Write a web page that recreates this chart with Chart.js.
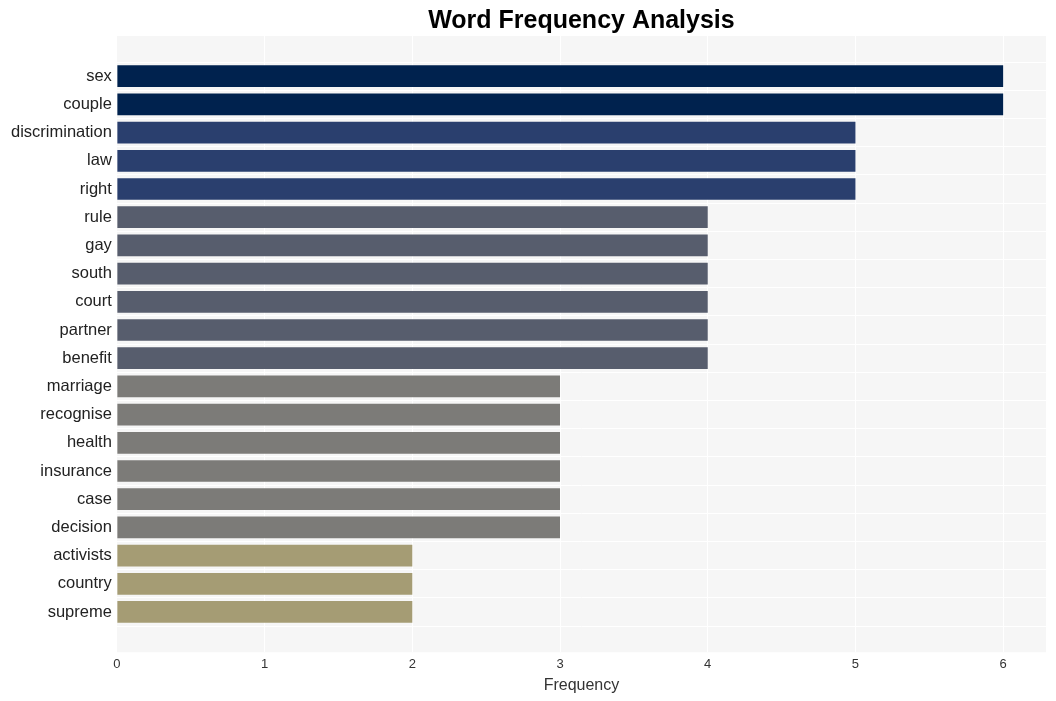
<!DOCTYPE html>
<html lang="en">
<head>
    <meta charset="UTF-8">
    <title>Word Frequency Analysis</title>
    <script src="https://cdn.jsdelivr.net/npm/chart.js"></script>
    <style>
        body { margin: 0; background: #fff; }
        #chartContainer { width: 1056px; height: 701px; }
    </style>
</head>
<body>
    <div id="chartContainer">
        <canvas id="freqChart"></canvas>
    </div>

    <script>
        // words, top to bottom
        const words = ['sex', 'couple', 'discrimination', 'law', 'right', 'rule', 'gay', 'south',
            'court', 'partner', 'benefit', 'marriage', 'recognise', 'health', 'insurance', 'case',
            'decision', 'activists', 'country', 'supreme'];
        const counts = [6, 6, 5, 5, 5, 4, 4, 4, 4, 4, 4, 3, 3, 3, 3, 3, 3, 2, 2, 2];
        const xTicks = [0, 1, 2, 3, 4, 5, 6];

        // colour by frequency
        const palette = { 6: '#00224e', 5: '#2a3f6e', 4: '#575d6d', 3: '#7c7b78', 2: '#a59c74' };

        // fills the plot area with light grey
        const plotBg = {
            id: 'plotBg',
            beforeDraw(chart) {
                const { ctx, chartArea: a } = chart;
                ctx.save();
                ctx.fillStyle = '#f6f6f6';
                ctx.fillRect(a.left, a.top, a.right - a.left, a.bottom - a.top);
                ctx.restore();
            }
        };

        const font = 'Liberation Sans, Arial, sans-serif';

        new Chart(document.getElementById('freqChart'), {
            type: 'bar',
            data: {
                datasets: [{
                    data: counts.map((c, i) => ({ x: c, y: i })),
                    backgroundColor: counts.map(c => palette[c]),
                    borderWidth: 0,
                    categoryPercentage: 1,
                    barPercentage: 0.77
                }]
            },
            options: {
                indexAxis: 'y',
                responsive: true,
                maintainAspectRatio: false,
                animation: false,
                layout: { padding: { left: 6, right: 10, top: 2, bottom: 6 } },
                scales: {
                    x: {
                        type: 'linear',
                        min: 0,
                        max: 6.29,
                        grid: { color: '#ffffff', lineWidth: 1, drawTicks: false },
                        border: { display: false },
                        afterBuildTicks: s => { s.ticks = xTicks.map(v => ({ value: v })); },
                        ticks: { color: '#333', font: { family: font, size: 13 }, padding: 4 },
                        title: { display: true, text: 'Frequency', color: '#333', font: { family: font, size: 16 }, padding: { top: 0, bottom: 0 } }
                    },
                    y: {
                        type: 'linear',
                        reverse: true,
                        min: -0.88,
                        max: words.length - 1 + 0.88,
                        grid: { color: '#ffffff', lineWidth: 1, drawTicks: false },
                        border: { display: false },
                        afterBuildTicks: s => { s.ticks = words.map((w, i) => ({ value: i })); },
                        ticks: {
                            color: '#222',
                            font: { family: font, size: 16.5 },
                            padding: 5,
                            autoSkip: false,
                            callback: v => words[v]
                        }
                    }
                },
                plugins: {
                    legend: { display: false },
                    tooltip: { enabled: false },
                    title: {
                        display: true,
                        fullSize: false,
                        text: 'Word Frequency Analysis',
                        color: '#000',
                        font: { family: font, size: 25, weight: 'bold' },
                        padding: { top: 4, bottom: 0 }
                    }
                }
            },
            plugins: [plotBg]
        });
    </script>
</body>
</html>
